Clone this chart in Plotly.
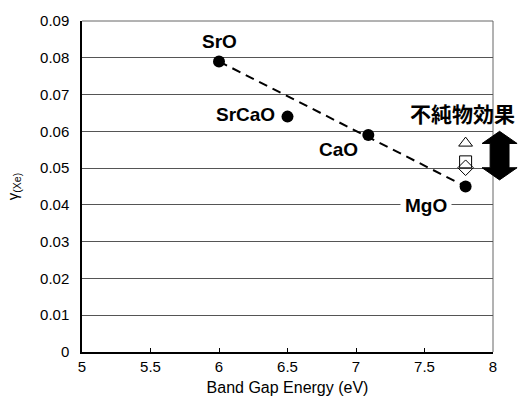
import plotly.graph_objects as go

materials = ["SrO", "SrCaO", "CaO", "MgO"]
band_gap = [6.0, 6.5, 7.09, 7.8]
gamma = [0.079, 0.064, 0.059, 0.045]

# impurity-effect hollow markers at MgO band gap
imp_x = [7.8, 7.8, 7.8]
imp_y = [0.0568, 0.0517, 0.0501]
imp_symbols = ["triangle-up-open", "square-open", "diamond-open"]

fit_x = [6.0, 7.8]
fit_y = [0.079, 0.045]

arrow_top = 0.0600
arrow_bottom = 0.0468

x_ticks = [5, 5.5, 6, 6.5, 7, 7.5, 8]
x_labels = ["5", "5.5", "6", "6.5", "7", "7.5", "8"]
y_ticks = [0, 0.01, 0.02, 0.03, 0.04, 0.05, 0.06, 0.07, 0.08, 0.09]
y_labels = ["0", "0.01", "0.02", "0.03", "0.04", "0.05", "0.06", "0.07", "0.08", "0.09"]

FONT = "Liberation Sans, Arial, sans-serif"

fig = go.Figure()
fig.add_trace(go.Scatter(x=fit_x, y=fit_y, mode="lines",
                         line=dict(color="black", width=2, dash="9px,6px"),
                         hoverinfo="skip", showlegend=False))
fig.add_trace(go.Scatter(x=band_gap, y=gamma, mode="markers",
                         marker=dict(color="black", size=12),
                         showlegend=False))
for xv, yv, sym in zip(imp_x, imp_y, imp_symbols):
    fig.add_trace(go.Scatter(x=[xv], y=[yv], mode="markers",
                             marker=dict(symbol=sym, size=12, color="black",
                                         line=dict(width=1, color="black")),
                             showlegend=False))

lab_font = dict(family=FONT, size=19, color="black")
fig.add_annotation(x=band_gap[0], y=gamma[0], text="<b>SrO</b>", showarrow=False,
                   yshift=20, font=lab_font)
fig.add_annotation(x=band_gap[1], y=gamma[1], text="<b>SrCaO</b>", showarrow=False,
                   xanchor="right", xshift=-11, yshift=2, font=lab_font)
fig.add_annotation(x=band_gap[2], y=gamma[2], text="<b>CaO</b>", showarrow=False,
                   xanchor="right", xshift=-8, yshift=-14, font=lab_font)
fig.add_annotation(x=band_gap[3], y=gamma[3], text="<b>MgO</b>", showarrow=False,
                   xanchor="right", xshift=-14, yshift=-19,
                   bgcolor="white", borderpad=4, font=lab_font)
fig.add_annotation(x=1.058, xref="paper", y=arrow_top, yref="y", text="<b>不純物効果</b>",
                   showarrow=False, xanchor="right", yshift=18,
                   font=dict(family="Noto Sans CJK JP", size=21, color="black"))

# double-headed block arrow (paper x, data y)
ax_c = 1.016
hw = 0.0426
sw = 0.023
hh = 0.0033
path = (f"M {ax_c},{arrow_top} L {ax_c+hw},{arrow_top-hh} L {ax_c+sw},{arrow_top-hh} "
        f"L {ax_c+sw},{arrow_bottom+hh} L {ax_c+hw},{arrow_bottom+hh} L {ax_c},{arrow_bottom} "
        f"L {ax_c-hw},{arrow_bottom+hh} L {ax_c-sw},{arrow_bottom+hh} L {ax_c-sw},{arrow_top-hh} "
        f"L {ax_c-hw},{arrow_top-hh} Z")
fig.add_shape(type="path", path=path, xref="paper", yref="y",
              fillcolor="black", line=dict(color="black", width=1), layer="above")

# top and right frame lines
fig.add_shape(type="line", xref="paper", yref="paper", x0=0, x1=1, y0=1, y1=1,
              line=dict(color="#666666", width=1), layer="above")
fig.add_shape(type="line", xref="paper", yref="paper", x0=1, x1=1, y0=0, y1=1,
              line=dict(color="#666666", width=1), layer="below")

fig.update_layout(
    width=518, height=417,
    margin=dict(l=82, r=25, t=16, b=65),
    paper_bgcolor="white", plot_bgcolor="white",
    font=dict(family=FONT, size=15, color="black"),
    showlegend=False,
)
fig.update_xaxes(range=[5, 8], tickvals=x_ticks, ticktext=x_labels, showgrid=False,
                 showline=True, linecolor="black", linewidth=1.5,
                 ticks="inside", ticklen=4, tickcolor="black",
                 tickfont=dict(size=15),
                 title=dict(text="Band Gap Energy (eV)", font=dict(size=16), standoff=8),
                 zeroline=False)
fig.update_yaxes(range=[0, 0.09], tickvals=y_ticks, ticktext=y_labels,
                 showgrid=True, gridcolor="#555555", gridwidth=1,
                 showline=True, linecolor="black", linewidth=1.5,
                 ticks="", ticklabelstandoff=8, tickfont=dict(size=15),
                 title=dict(text="γ<sub>(Xe)</sub>", font=dict(size=15), standoff=18),
                 zeroline=False)

fig.write_html("out.html")
